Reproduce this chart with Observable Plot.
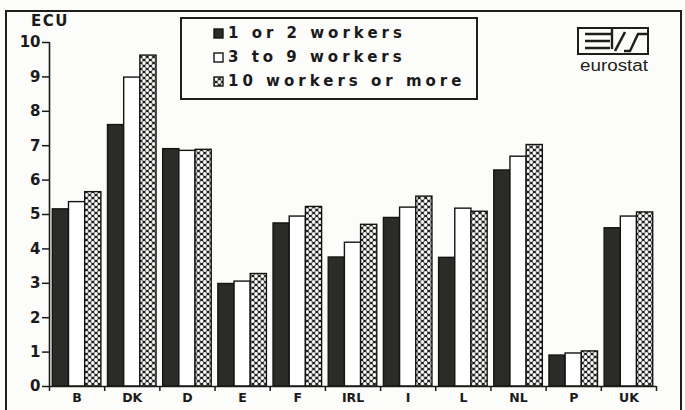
<!DOCTYPE html>
<html>
<head>
<meta charset="utf-8">
<script src="https://cdn.jsdelivr.net/npm/d3@7"></script>
<script src="https://cdn.jsdelivr.net/npm/@observablehq/plot@0.6"></script>
<style>
  html, body { margin: 0; padding: 0; background: #fff; }
  #wrap { position: relative; width: 685px; height: 410px; overflow: hidden; background: #fcfcfb; font-family: "DejaVu Sans", sans-serif; }
  #frame { position: absolute; left: 5px; top: 10px; width: 677px; height: 420px; border: 2px solid #1e1e1a; box-sizing: border-box; pointer-events: none; }
  #chart { position: absolute; left: 0; top: 0; }
  #ecu { position: absolute; left: 31px; top: 12px; font: bold 15px "DejaVu Sans", sans-serif; letter-spacing: 1.5px; color: #1a1a1a; }
  #legend { position: absolute; left: 180px; top: 17px; width: 298px; height: 83px; border: 2px solid #1e1e1a; box-sizing: border-box; background: #fcfcfb; }
  .item { position: absolute; left: 31px; display: flex; align-items: center; font: bold 15px "DejaVu Sans", sans-serif; letter-spacing: 4px; color: #1a1a1a; white-space: nowrap; }
  .item svg { margin-right: 4px; }
  #logo { position: absolute; left: 576px; top: 26px; }
</style>
</head>
<body>
<svg width="0" height="0" style="position:absolute">
  <defs>
    <pattern id="checker" patternUnits="userSpaceOnUse" width="6.4" height="6" x="0" y="0">
      <rect width="6.4" height="6" fill="#1c1c1a"></rect>
      <ellipse cx="0" cy="0" rx="1.8" ry="2" fill="#fff"></ellipse>
      <ellipse cx="6.4" cy="0" rx="1.8" ry="2" fill="#fff"></ellipse>
      <ellipse cx="0" cy="6" rx="1.8" ry="2" fill="#fff"></ellipse>
      <ellipse cx="6.4" cy="6" rx="1.8" ry="2" fill="#fff"></ellipse>
      <ellipse cx="3.2" cy="3" rx="1.8" ry="2" fill="#fff"></ellipse>
    </pattern>
  </defs>
</svg>
<div id="wrap">
  <div id="chart"></div>
  <div id="frame"></div>
  <div id="ecu">ECU</div>
  <div id="legend"></div>
  <svg id="logo" width="76" height="50" viewBox="0 0 76 50">
    <rect x="2" y="2" width="70" height="26" fill="none" stroke="#1e1e1a" stroke-width="2"></rect>
    <path d="M9 8 H36 M9 15 H34 M9 22 H34" stroke="#1e1e1a" stroke-width="2.6" fill="none"></path>
    <path d="M36 2 V23" stroke="#1e1e1a" stroke-width="2.4" fill="none"></path>
    <path d="M39 25 L49 6" stroke="#1e1e1a" stroke-width="2.6" fill="none"></path>
    <path d="M48 25 H54 L62 8 H72" stroke="#1e1e1a" stroke-width="2.4" fill="none"></path>
    <text x="4" y="45" font-family="Liberation Sans, Arial, sans-serif" font-size="16" textLength="68" lengthAdjust="spacingAndGlyphs" fill="#1e1e1a">eurostat</text>
  </svg>
</div>
<script>
// ---- data ----
const countries = ["B", "DK", "D", "E", "F", "IRL", "I", "L", "NL", "P", "UK"];
const series = ["1 or 2 workers", "3 to 9 workers", "10 workers or more"];
const workers1to2 = [5.15, 7.6, 6.9, 2.98, 4.74, 3.75, 4.9, 3.74, 6.28, 0.9, 4.6];
const workers3to9 = [5.36, 8.98, 6.85, 3.05, 4.94, 4.18, 5.2, 5.17, 6.68, 0.96, 4.94];
const workers10plus = [5.65, 9.62, 6.88, 3.27, 5.22, 4.7, 5.52, 5.08, 7.02, 1.02, 5.06];
const yTicks = [0, 1, 2, 3, 4, 5, 6, 7, 8, 9, 10];

const seriesValues = [workers1to2, workers3to9, workers10plus];
const fills = ["#2b2c28", "#ffffff", "url(#checker)"];

// table: one row per country x series; group slot = country index, bar slot = series index
const rows = [];
countries.forEach((c, i) => series.forEach((s, j) => rows.push({country: c, series: s, value: seriesValues[j][i], i, j})));

const groupPad = 0.06;               // fraction of a country slot left empty at each side
const barW = (1 - 2 * groupPad) / series.length;

const chart = Plot.plot({
  width: 685,
  height: 410,
  marginLeft: 49,
  marginRight: 29,
  marginTop: 42,
  marginBottom: 24,
  style: {background: "transparent", color: "#1a1a1a"},
  x: {type: "linear", domain: [0, countries.length], axis: null},
  y: {domain: [0, 10], axis: null},
  color: {type: "ordinal", domain: series, range: fills},
  marks: [
    Plot.rectY(rows, {
      x1: d => d.i + groupPad + d.j * barW,
      x2: d => d.i + groupPad + (d.j + 1) * barW,
      y1: 0,
      y2: "value",
      fill: "series",
      stroke: "#141412",
      strokeWidth: 1.4
    }),
    Plot.ruleX([0], {stroke: "#1a1a1a", strokeWidth: 1.6}),
    Plot.ruleY([0], {stroke: "#1a1a1a", strokeWidth: 1.6}),
    Plot.axisY({ticks: yTicks, tickSize: 7, tickPadding: 2, strokeWidth: 1.5, fontSize: 15, fontWeight: "bold", fontFamily: "DejaVu Sans, sans-serif", label: null}),
    Plot.axisX({ticks: d3.range(0, countries.length + 1), tickSize: 5, strokeWidth: 1.5, tickFormat: () => "", label: null}),
    Plot.axisX({ticks: countries.map((c, i) => i + 0.5), tickSize: 0, tickPadding: 7, tickFormat: v => countries[Math.floor(v)], fontSize: 12.5, fontWeight: "bold", fontFamily: "DejaVu Sans, sans-serif", label: null})
  ]
});
document.getElementById("chart").appendChild(chart);

// legend (HTML) built from series and fills
const legend = document.getElementById("legend");
series.forEach((s, j) => {
  const item = document.createElement("div");
  item.className = "item";
  item.style.top = (5 + j * 24) + "px";
  item.innerHTML = `<svg width="11" height="11"><rect x="1" y="1" width="9" height="9" fill="${fills[j]}" stroke="#141412" stroke-width="1.4"></rect></svg><span>${s}</span>`;
  legend.appendChild(item);
});
</script>
</body>
</html>
